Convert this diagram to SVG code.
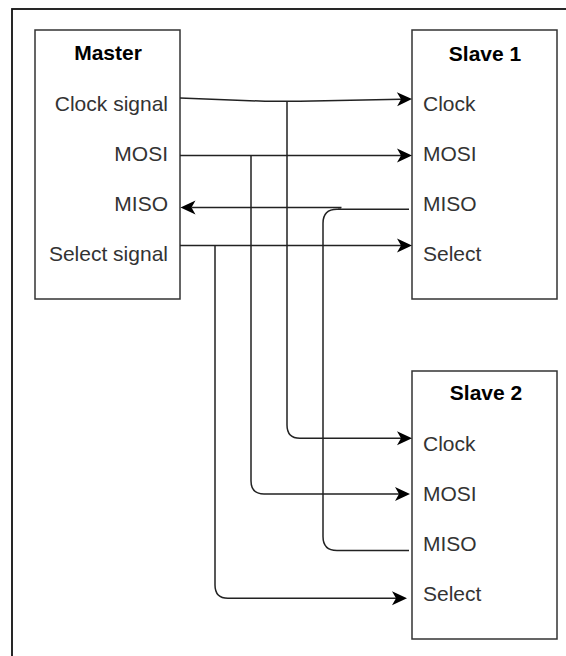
<svg xmlns="http://www.w3.org/2000/svg" width="566" height="656" viewBox="0 0 566 656">
<style>
.box{fill:#fff;stroke:#333;stroke-width:1.5}
.title{font-family:"Liberation Sans",Arial,sans-serif;font-size:21px;font-weight:bold;fill:#000;text-anchor:middle}
.lbl{font-family:"Liberation Sans",Arial,sans-serif;font-size:21px;fill:#333}
.r{text-anchor:end}
.edge{fill:none;stroke:#222;stroke-width:1.5}
.arr{marker-end:url(#ah)}
</style>
<defs>
<marker id="ah" markerUnits="userSpaceOnUse" markerWidth="16" markerHeight="15" refX="4" refY="7" orient="auto" overflow="visible">
<path d="M0,0 L15,7 L0,14 L4,7 Z" fill="#000"/>
</marker>
</defs>
<rect width="566" height="656" fill="#fff"/>
<rect id="frame" x="12" y="9" width="600" height="700" fill="none" stroke="#111" stroke-width="1.8"/>
<g id="master">
<rect class="box" x="35" y="30" width="145" height="269"/>
<text class="title" x="108" y="60">Master</text>
<text class="lbl r" x="168" y="110.5">Clock signal</text>
<text class="lbl r" x="168" y="160.5">MOSI</text>
<text class="lbl r" x="168" y="210.5">MISO</text>
<text class="lbl r" x="168" y="260.5">Select signal</text>
</g>
<g id="slave1">
<rect class="box" x="412" y="30" width="145" height="269"/>
<text class="title" x="485" y="61">Slave 1</text>
<text class="lbl" x="423" y="110.5">Clock</text>
<text class="lbl" x="423" y="160.5">MOSI</text>
<text class="lbl" x="423" y="210.5">MISO</text>
<text class="lbl" x="423" y="260.5">Select</text>
</g>
<g id="slave2">
<rect class="box" x="412" y="371" width="145" height="268"/>
<text class="title" x="486" y="400">Slave 2</text>
<text class="lbl" x="423" y="451">Clock</text>
<text class="lbl" x="423" y="501">MOSI</text>
<text class="lbl" x="423" y="551">MISO</text>
<text class="lbl" x="423" y="601">Select</text>
</g>
<g id="connectors">
<path class="edge arr" d="M180,98 L265,101.3 L300,101.3 L401,99.2"/>
<path class="edge arr" d="M287,101.3 L287,425 Q287,438.3 300,438.3 L401,438.3"/>
<path class="edge arr" d="M180,155.5 L401,155.5"/>
<path class="edge arr" d="M251,155.5 L251,481 Q251,494 264,494 L399,494"/>
<path class="edge" d="M409,209.3 L338,209.3"/>
<path class="edge arr" d="M341.5,207.5 L191.5,207.5"/>
<path class="edge" d="M409,550.5 L337,550.5 Q323,550.5 323,536.5 L323,223.3 Q323,209.3 337,209.3 L341,209.3"/>
<path class="edge arr" d="M180,245.5 L401,245.5"/>
<path class="edge arr" d="M215,245.5 L215,585 Q215,598.3 228,598.3 L396,598.3"/>
</g>
</svg>
